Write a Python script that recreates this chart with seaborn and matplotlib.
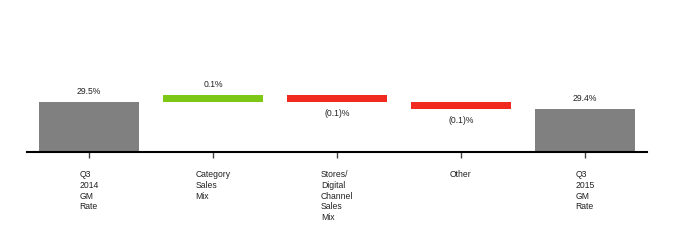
import matplotlib
matplotlib.use("Agg")
import matplotlib.pyplot as plt
import seaborn as sns

categories = ["Q3\n2014\nGM\nRate", "Category\nSales\nMix", "Stores/\nDigital\nChannel\nSales\nMix", "Other", "Q3\n2015\nGM\nRate"]
bottoms = [0.0, 29.5, 29.5, 29.4, 0.0]
heights = [29.5, 0.1, 0.1, 0.1, 29.4]
labels = ["29.5%", "0.1%", "(0.1)%", "(0.1)%", "29.4%"]
kinds = ["total", "up", "down", "down", "total"]

colors = {"total": "#808080", "up": "#7DC817", "down": "#F02A1E"}

sns.set_theme(style="white")
plt.rcParams["font.family"] = ["Liberation Sans", "DejaVu Sans"]

FS = 6.2

fig = plt.figure(figsize=(6.8, 2.4), dpi=100)
ax = fig.add_axes([27 / 680, 88 / 240, 620 / 680, 132 / 240])

for cat, b, h, k in zip(categories, bottoms, heights, kinds):
    sns.barplot(x=[cat], y=[h], bottom=b, color=colors[k], order=categories,
                width=0.8, errorbar=None, saturation=1, ax=ax, linewidth=0)

for i, (b, h, k, lab) in enumerate(zip(bottoms, heights, kinds, labels)):
    if k == "down":
        ax.annotate(lab, (i, b), xytext=(0, -8.5), textcoords="offset points",
                    ha="center", va="center", fontsize=FS, color="#222222")
    else:
        ax.annotate(lab, (i, b + h), xytext=(0, 7.2), textcoords="offset points",
                    ha="center", va="center", fontsize=FS, color="#222222")

ymin = 29.5 - 50 / 70
ax.set_ylim(ymin, ymin + 132 / 70)
ax.set_xlim(-0.5, 4.5)
ax.set_yticks([])
ax.set_xlabel("")
ax.set_ylabel("")
for s in ["top", "right", "left"]:
    ax.spines[s].set_visible(False)
ax.spines["bottom"].set_color("black")
ax.spines["bottom"].set_linewidth(1.5)
ax.tick_params(axis="x", bottom=True, length=4, width=1, color="#444444", pad=9)
for t in ax.get_xticklabels():
    t.set_fontsize(FS)
    t.set_multialignment("left")
    t.set_linespacing(1.25)
    t.set_verticalalignment("top")
    t.set_color("#222222")
ax.patch.set_alpha(0)

fig.savefig("out.png", dpi=100, facecolor="white")
